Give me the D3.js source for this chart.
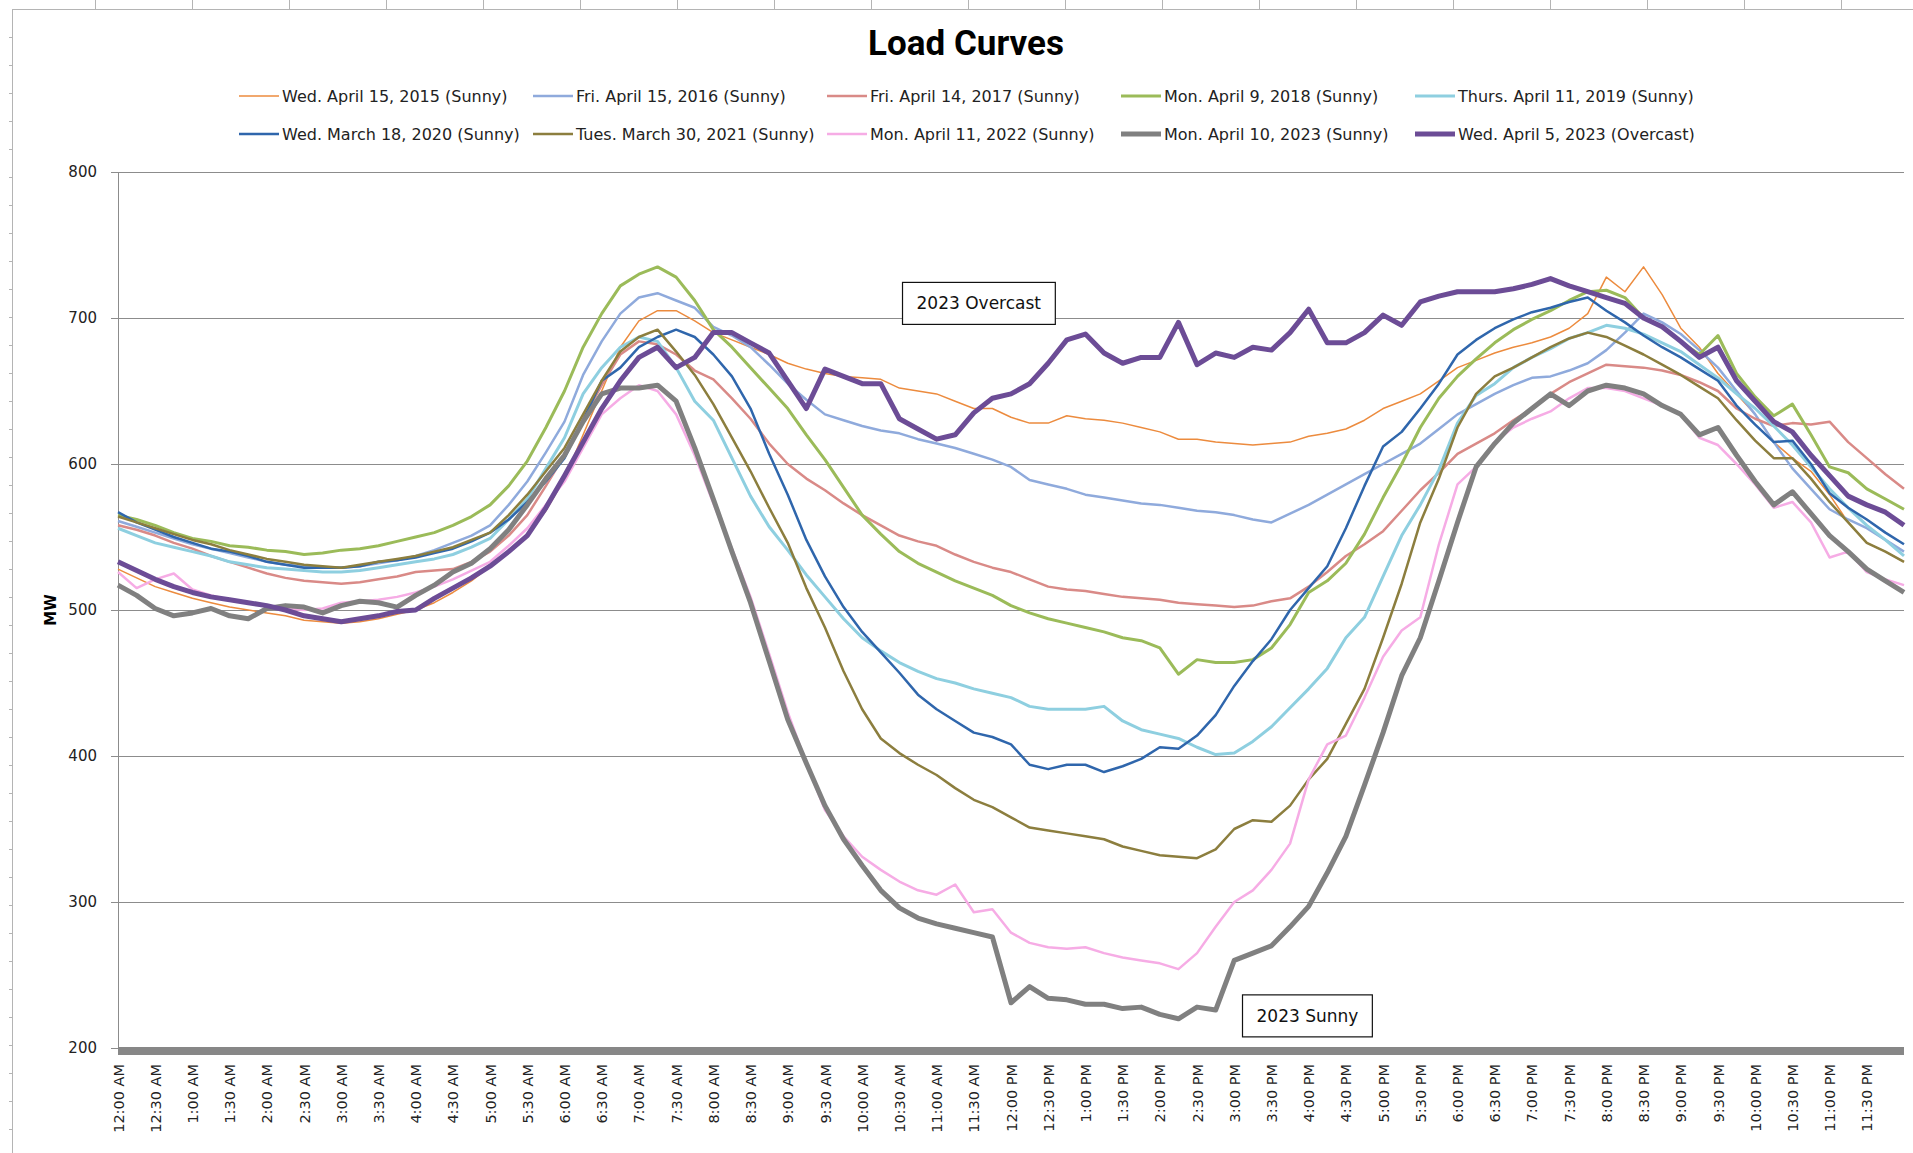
<!DOCTYPE html>
<html>
<head>
<meta charset="utf-8">
<title>Load Curves</title>
<script src="https://cdn.jsdelivr.net/npm/d3@7"></script>
<style>
body{margin:0;background:#fff;overflow:hidden;}
svg{display:block;}
.axis text{font-family:"DejaVu Sans",sans-serif;fill:#222;}
.grid line{stroke:#8c8c8c;stroke-width:1;}
.grid path{display:none;}
</style>
</head>
<body>
<svg id="chart" width="1913" height="1153"></svg>
<script>
// one reading every 15 minutes, 12:00 AM .. 12:00 AM next day (97 points)
var stepMinutes = 15;

var seriesNames = ["Wed. April 15, 2015 (Sunny)","Fri. April 15, 2016 (Sunny)","Fri. April 14, 2017 (Sunny)",
	"Mon. April 9, 2018 (Sunny)","Thurs. April 11, 2019 (Sunny)","Wed. March 18, 2020 (Sunny)",
	"Tues. March 30, 2021 (Sunny)","Mon. April 11, 2022 (Sunny)","Mon. April 10, 2023 (Sunny)",
	"Wed. April 5, 2023 (Overcast)"];

var load2015 = [528,522,516,512, 508,505,502,500, 498,496,493,492, 491,492,494,497, 500,505,512,520, 530,540,552,568,
	590,620,650,680, 698,705,705,698, 690,685,680,675, 669,665,662,660, 659,658,652,650, 648,643,638,638,
	632,628,628,633, 631,630,628,625, 622,617,617,615, 614,613,614,615, 619,621,624,630, 638,643,648,657,
	666,671,676,680, 683,687,693,703, 728,718,735,716, 693,680,662,648, 634,615,604,595, 579,560,546,540, 533];
var load2016 = [561,557,553,549, 545,542,539,536, 533,531,530,529, 529,530,532,534, 537,541,546,551, 558,572,588,608,
	629,661,684,703, 714,717,712,707, 694,688,680,668, 655,644,634,630, 626,623,621,617, 614,611,607,603,
	598,589,586,583, 579,577,575,573, 572,570,568,567, 565,562,560,566, 572,579,586,593, 600,607,614,624,
	634,641,648,654, 659,660,664,669, 678,690,703,697, 689,678,666,650, 634,615,597,583, 569,562,556,548, 540];
var load2017 = [558,555,551,546, 542,537,533,529, 525,522,520,519, 518,519,521,523, 526,527,528,533, 540,551,565,585,
	606,631,654,675, 684,682,675,664, 658,645,631,614, 600,590,582,573, 565,558,551,547, 544,538,533,529,
	526,521,516,514, 513,511,509,508, 507,505,504,503, 502,503,506,508, 516,526,537,545, 554,568,582,594,
	607,614,621,630, 638,648,656,662, 668,667,666,664, 661,656,650,638, 631,626,628,627, 629,615,604,593, 583];
var load2018 = [565,562,558,553, 549,547,544,543, 541,540,538,539, 541,542,544,547, 550,553,558,564, 572,585,602,625,
	650,680,703,722, 730,735,728,712, 692,680,666,652, 638,620,603,584, 565,552,540,532, 526,520,515,510,
	503,498,494,491, 488,485,481,479, 474,456,466,464, 464,466,474,490, 512,520,532,552, 577,600,625,645,
	660,672,683,692, 699,705,712,718, 719,714,700,694, 684,675,688,662, 646,633,641,620, 598,594,583,576, 569];
var load2019 = [556,551,546,543, 540,537,533,531, 529,528,527,526, 526,527,529,531, 533,535,538,543, 549,562,576,597,
	618,648,666,680, 687,684,666,643, 630,604,578,557, 541,524,509,494, 481,472,464,458, 453,450,446,443,
	440,434,432,432, 432,434,424,418, 415,412,406,401, 402,410,420,433, 446,460,481,495, 523,551,572,596,
	628,647,655,666, 673,679,686,690, 695,693,689,683, 677,668,659,648, 638,626,613,598, 583,570,558,548, 537];
var load2020 = [567,560,555,550, 546,542,540,537, 533,531,529,529, 529,530,533,534, 536,539,542,547, 553,562,574,588,
	604,630,657,666, 680,687,692,687, 675,660,638,607, 579,548,523,502, 485,471,457,442, 432,424,416,413,
	408,394,391,394, 394,389,393,398, 406,405,414,428, 448,465,480,500, 515,530,556,585, 612,622,638,655,
	675,685,693,699, 704,707,711,714, 705,697,688,680, 673,665,657,640, 627,615,616,600, 580,570,562,553, 545];
var load2021 = [564,560,556,552, 548,545,541,538, 535,533,531,530, 529,531,533,535, 537,540,543,548, 553,565,579,595,
	611,634,657,677, 687,692,677,661, 641,618,595,570, 546,515,488,458, 432,412,402,394, 387,378,370,365,
	358,351,349,347, 345,343,338,335, 332,331,330,336, 350,356,355,366, 384,398,422,446, 481,518,560,590,
	625,648,660,666, 673,680,686,690, 687,681,675,668, 661,653,645,630, 616,604,604,590, 574,560,546,540, 533];
var load2022 = [526,515,521,525, 514,510,507,505, 503,501,500,501, 505,506,507,509, 512,516,521,527, 533,544,556,572,
	588,611,634,645, 654,650,634,606, 573,542,509,470, 430,395,363,345, 331,322,314,308, 305,312,293,295,
	279,272,269,268, 269,265,262,260, 258,254,265,283, 300,308,322,340, 384,408,414,440, 468,486,495,545,
	586,598,615,625, 631,636,645,652, 652,650,645,640, 634,618,613,600, 586,570,574,560, 536,540,526,521, 517];
var load2023s = [517,510,501,496, 498,501,496,494, 501,503,502,498, 503,506,505,502, 510,517,526,532, 542,555,572,590,
	606,629,648,652, 652,654,643,611, 576,540,505,465, 425,395,366,343, 325,308,296,289, 285,282,279,276,
	231,242,234,233, 230,230,227,228, 223,220,228,226, 260,265,270,283, 297,320,345,380, 416,455,481,520,
	560,598,614,628, 638,648,640,650, 654,652,648,640, 634,620,625,606, 588,572,581,566, 551,540,528,520, 512];
var load2023o = [533,527,521,516, 512,509,507,505, 503,500,496,494, 492,494,496,499, 500,508,515,522, 530,540,551,570,
	592,615,638,657, 673,680,666,673, 690,690,683,676, 657,638,665,660, 655,655,631,624, 617,620,635,645,
	648,655,669,685, 689,676,669,673, 673,697,668,676, 673,680,678,690, 706,683,683,690, 702,695,711,715,
	718,718,718,720, 723,727,722,718, 714,710,700,694, 684,673,680,657, 643,629,622,606, 592,578,572,567, 558];

var seriesValues = [load2015,load2016,load2017,load2018,load2019,load2020,load2021,load2022,load2023s,load2023o];
var seriesColors = ["#EC8B3E","#8FAADC","#D98A87","#9BBB59","#8ECFE0","#2F66AC","#8C7E3E","#F6ACE5","#808080","#6C4C96"];
var seriesWidths = [1.5,2.5,2.5,3,3,2.5,2.5,2.5,5,5];

var yTicks = [200,300,400,500,600,700,800];
var xTickLabels = ["12:00 AM","12:30 AM","1:00 AM","1:30 AM","2:00 AM","2:30 AM","3:00 AM","3:30 AM",
	"4:00 AM","4:30 AM","5:00 AM","5:30 AM","6:00 AM","6:30 AM","7:00 AM","7:30 AM",
	"8:00 AM","8:30 AM","9:00 AM","9:30 AM","10:00 AM","10:30 AM","11:00 AM","11:30 AM",
	"12:00 PM","12:30 PM","1:00 PM","1:30 PM","2:00 PM","2:30 PM","3:00 PM","3:30 PM",
	"4:00 PM","4:30 PM","5:00 PM","5:30 PM","6:00 PM","6:30 PM","7:00 PM","7:30 PM",
	"8:00 PM","8:30 PM","9:00 PM","9:30 PM","10:00 PM","10:30 PM","11:00 PM","11:30 PM"];

// text boxes: anchor in data units (minutes after midnight, MW)
var noteTexts = ["2023 Overcast","2023 Sunny"];
var noteMinutes = [694,959];
var noteValues = [710,222];

/* layout */
var plotLeft = 118, plotRight = 1904, plotTop = 172, plotBottom = 1048;

var svg = d3.select("#chart");

var x = d3.scaleLinear().domain([0,1440]).range([plotLeft,plotRight]);
var y = d3.scaleLinear().domain([200,800]).range([plotBottom,plotTop]);

// sheet frame peeking round the chart
var frame = svg.append("g").attr("stroke","#b4b4b4").attr("stroke-width",1);
frame.append("line").attr("x1",12.5).attr("x2",12.5).attr("y1",9).attr("y2",1153);
frame.append("line").attr("x1",12).attr("x2",1913).attr("y1",9.5).attr("y2",9.5);
frame.selectAll(".rowtick").data(d3.range(37,1153,28)).enter().append("line")
	.attr("x1",9).attr("x2",12).attr("y1",function(d){return d+0.5;}).attr("y2",function(d){return d+0.5;});
frame.selectAll(".coltick").data(d3.range(95,1913,97)).enter().append("line")
	.attr("x1",function(d){return d+0.5;}).attr("x2",function(d){return d+0.5;}).attr("y1",0).attr("y2",9);

// title
svg.append("text")
	.attr("x",966).attr("y",55)
	.attr("text-anchor","middle")
	.style("font-family","'Liberation Sans Narrow',Roboto,sans-serif")
	.style("font-weight","bold").style("font-size","35px")
	.text("Load Curves");

// horizontal gridlines
svg.append("g")
	.attr("class","grid")
	.attr("transform","translate(" + plotLeft + ",0)")
	.call(d3.axisLeft(y).tickValues(yTicks.slice(1)).tickSize(-(plotRight - plotLeft)).tickFormat(""));

// y axis
var yAxisG = svg.append("g")
	.attr("class","axis")
	.attr("transform","translate(" + plotLeft + ",0)")
	.call(d3.axisLeft(y).tickValues(yTicks).tickSize(7).tickSizeOuter(0).tickPadding(14));
yAxisG.selectAll("line,path").attr("stroke","#8c8c8c");
yAxisG.selectAll("text").style("font-size","15px");

svg.append("text")
	.attr("transform","translate(56,610) rotate(-90)")
	.attr("text-anchor","middle")
	.style("font-family","'DejaVu Sans',sans-serif")
	.style("font-weight","bold").style("font-size","15px")
	.text("MW");

// x axis: labels every 30 minutes, thick bar along 200
var xAxisG = svg.append("g")
	.attr("class","axis")
	.attr("transform","translate(0," + (plotBottom + 7) + ")")
	.call(d3.axisBottom(x)
		.tickValues(xTickLabels.map(function(d,i){return i*30;}))
		.tickSize(0)
		.tickFormat(function(d,i){return xTickLabels[i];}));
xAxisG.select(".domain").remove();
xAxisG.selectAll("text")
	.attr("transform","rotate(-90)")
	.attr("x",-9).attr("y",0).attr("dy","0.35em")
	.style("text-anchor","end")
	.style("font-size","14.5px");

svg.append("rect")
	.attr("x",plotLeft).attr("y",y(200) - 1)
	.attr("width",plotRight - plotLeft).attr("height",8)
	.attr("fill","#878787");

// load curves
var line = d3.line()
	.x(function(d,i){return x(i*stepMinutes);})
	.y(function(d){return y(d);});

svg.append("g").attr("class","curves")
	.selectAll("path")
	.data(seriesValues)
	.enter().append("path")
	.attr("fill","none")
	.attr("stroke",function(d,i){return seriesColors[i];})
	.attr("stroke-width",function(d,i){return seriesWidths[i];})
	.attr("stroke-linejoin","round")
	.attr("d",line);

// notes
var notes = svg.append("g").selectAll("g")
	.data(noteTexts).enter().append("g")
	.attr("transform",function(d,i){return "translate(" + x(noteMinutes[i]) + "," + y(noteValues[i]) + ")";});
notes.append("text")
	.attr("text-anchor","middle").attr("dy","0.35em")
	.style("font-family","'DejaVu Sans',sans-serif").style("font-size","17px").style("fill","#111")
	.text(function(d){return d;});
notes.insert("rect","text")
	.attr("fill","#fff").attr("stroke","#111").attr("stroke-width",1.2)
	.each(function(){
		var bb = this.parentNode.querySelector("text").getBBox();
		d3.select(this).attr("x",bb.x - 14).attr("y",-21).attr("width",bb.width + 28).attr("height",42);
	});

// legend, two rows of five
var legend = svg.append("g").selectAll("g")
	.data(seriesNames).enter().append("g")
	.attr("transform",function(d,i){return "translate(" + (282 + (i%5)*294) + "," + (96 + Math.floor(i/5)*38) + ")";});
legend.append("line")
	.attr("x1",-43).attr("x2",-3).attr("y1",0).attr("y2",0)
	.attr("stroke",function(d,i){return seriesColors[i];})
	.attr("stroke-width",function(d,i){return seriesWidths[i];});
legend.append("text")
	.attr("dy","0.35em")
	.style("font-family","'DejaVu Sans',sans-serif").style("font-size","16px").style("fill","#222")
	.text(function(d){return d;});
</script>
</body>
</html>
